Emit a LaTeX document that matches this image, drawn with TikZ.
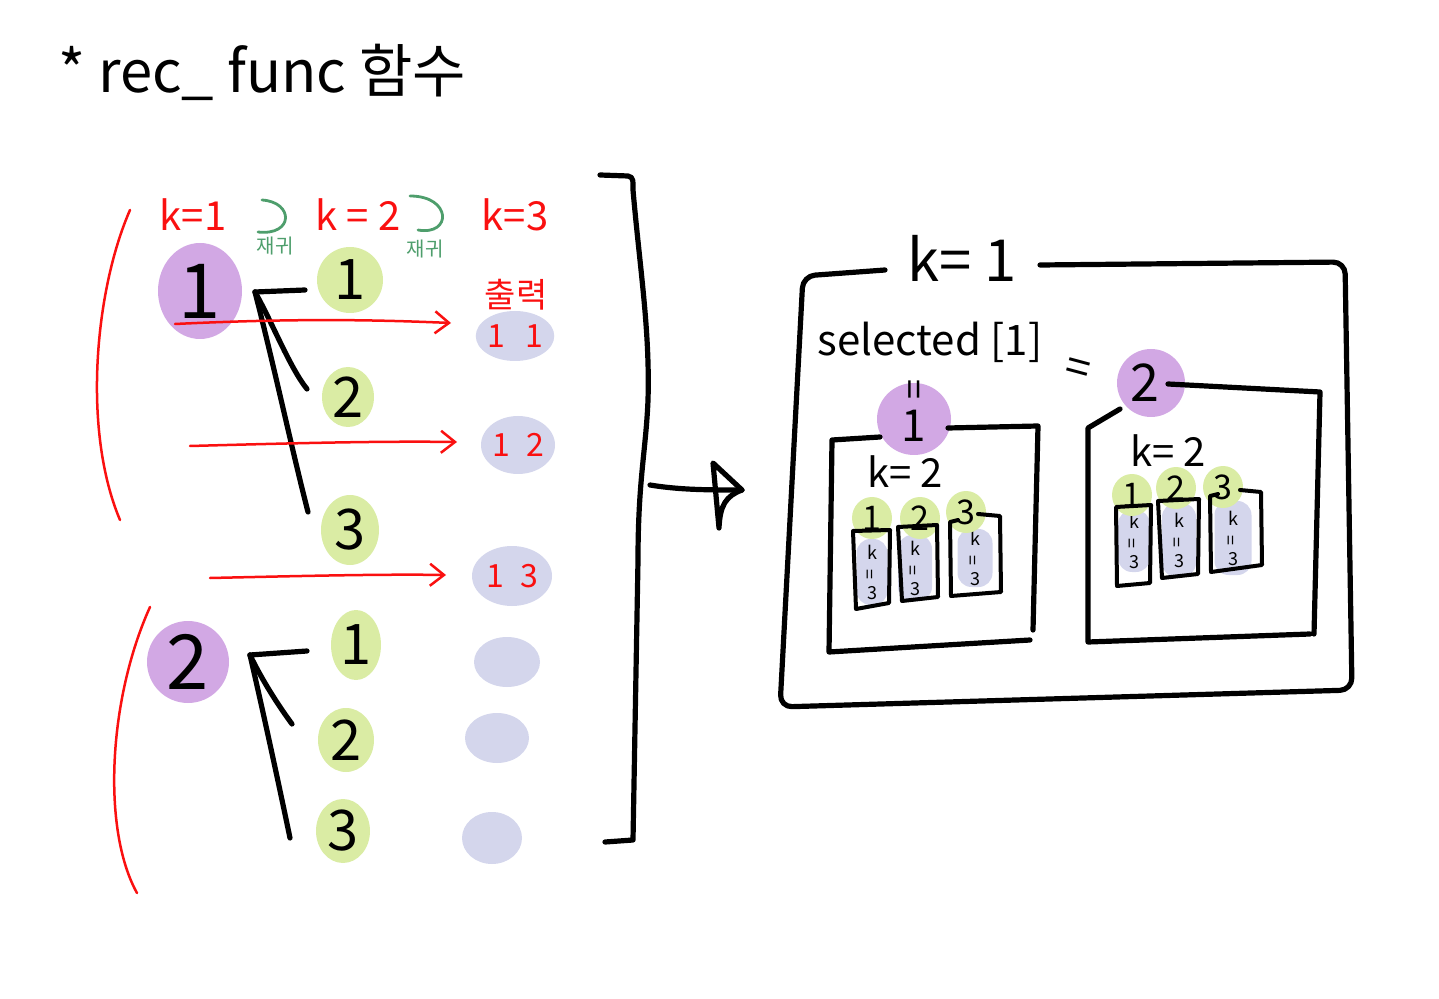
\documentclass[tikz,border=0pt]{standalone}
\usepackage{fontspec}
\setmainfont{Noto Sans CJK KR}
\usetikzlibrary{arrows.meta,shapes.geometric}
\definecolor{pblob}{RGB}{210,168,228}
\definecolor{gblob}{RGB}{218,236,164}
\definecolor{lblob}{RGB}{212,214,236}
\definecolor{redink}{RGB}{250,16,16}
\definecolor{greenink}{RGB}{78,158,108}
\begin{document}
\begin{tikzpicture}[x=0.5pt,y=-0.5pt,
  ink/.style={line width=2.6pt, line cap=round, line join=round},
  thinink/.style={line width=2pt, line cap=round, line join=round},
  rink/.style={draw=redink, line width=1.25pt, line cap=round},
  rarrow/.style={rink, -{Straight Barb[length=7pt,width=11pt,line width=1.25pt]}},
  garc/.style={draw=greenink, line width=1.4pt, line cap=round},
  pb/.style={ellipse, fill=pblob, inner sep=0pt, font=\fontsize{38}{38}\selectfont},
  gb/.style={ellipse, fill=gblob, inner sep=0pt, font=\fontsize{28}{28}\selectfont},
  sgb/.style={ellipse, fill=gblob, inner sep=0pt, minimum width=20pt, minimum height=21pt, font=\fontsize{17}{17}\selectfont},
  lb/.style={ellipse, fill=lblob, inner sep=0pt, text=redink, font=\fontsize{16}{16}\selectfont},
  slb/.style={rectangle, rounded corners=7pt, fill=lblob, inner sep=0pt, align=center, font=\fontsize{9}{10}\selectfont},
  rlabel/.style={text=redink, inner sep=0pt, font=\fontsize{20}{20}\selectfont},
  glabel/.style={text=greenink, inner sep=0pt, font=\fontsize{10}{10}\selectfont},
  blabel/.style={inner sep=0pt}
]
\useasboundingbox (0,0) rectangle (1439,999);

% ---------- title
\node[blabel, font=\fontsize{29}{29}\selectfont] (title) at (262,72) {* rec\_ func 함수};

% ---------- left: headers
\node[rlabel] (k1) at (193,215) {k=1};
\node[rlabel] (k2) at (358,215) {k = 2};
\node[rlabel] (k3) at (515,215) {k=3};
\draw[garc] (262,200) .. controls (294,202) and (294,236) .. (258,232);
\draw[garc] (410,196) .. controls (452,196) and (452,236) .. (418,230);
\node[glabel] (rec1) at (275,246) {재귀};
\node[glabel] (rec2) at (425,249) {재귀};
\node[rlabel, font=\fontsize{17}{17}\selectfont] (out) at (516,295) {출력};

% ---------- left: blobs (group 1)
\node[pb, minimum width=42pt, minimum height=48pt] (a1) at (200,291) {1};
\node[gb, minimum width=33pt, minimum height=33pt] (b1) at (350,280) {1};
\node[gb, minimum width=26pt, minimum height=30pt] (b2) at (348,397) {2};
\node[gb, minimum width=29pt, minimum height=35pt] (b3) at (350,530) {3};
\node[lb, minimum width=35pt, minimum height=25pt] (c1) at (515,336) {1\hspace{10pt}1};
\node[lb, minimum width=37pt, minimum height=29pt] (c2) at (518,445) {1\hspace{8pt}2};
\node[lb, minimum width=40pt, minimum height=30pt] (c3) at (512,576) {1\hspace{8pt}3};
\node[lb, minimum width=33pt, minimum height=25pt] (c4) at (507,662) {};
\node[lb, minimum width=32pt, minimum height=25pt] (c5) at (497,738) {};
\node[lb, minimum width=30pt, minimum height=26pt] (c6) at (492,838) {};

% ---------- left: blobs (group 2)
\node[pb, minimum width=41pt, minimum height=41pt] (a2) at (188,662) {2};
\node[gb, minimum width=25pt, minimum height=35pt] (d1) at (356,645) {1};
\node[gb, minimum width=28pt, minimum height=32pt] (d2) at (346,740) {2};
\node[gb, minimum width=27pt, minimum height=32pt] (d3) at (343,831) {3};

% ---------- left: connectors group 1
\coordinate (j1) at (255,292);
\coordinate (e1) at (305,290);
\coordinate (e2) at (307,389);
\coordinate (e3) at (308,512);
\draw[ink] (j1) -- (e1);
\draw[ink] (j1) .. controls (272,322) and (290,368) .. (e2);
\draw[ink] (j1) .. controls (275,370) and (292,450) .. (e3);

% ---------- left: connectors group 2
\coordinate (j2) at (250,655);
\coordinate (f1) at (307,651);
\coordinate (f2) at (292,724);
\coordinate (f3) at (290,838);
\draw[ink] (j2) -- (f1);
\draw[ink] (j2) .. controls (262,680) and (278,705) .. (f2);
\draw[ink] (j2) .. controls (265,720) and (280,790) .. (f3);

% ---------- red output arrows
\coordinate (r1s) at (175,324); \coordinate (r1e) at (451,323);
\coordinate (r2s) at (190,446); \coordinate (r2e) at (457,442);
\coordinate (r3s) at (210,578); \coordinate (r3e) at (446,575);
\draw[rarrow] (r1s) .. controls (300,318) and (380,320) .. (r1e);
\draw[rarrow] (r2s) .. controls (300,443) and (380,441) .. (r2e);
\draw[rarrow] (r3s) .. controls (300,576) and (380,574) .. (r3e);

% ---------- red brackets
\draw[rink] (130,210) .. controls (95,290) and (82,430) .. (120,520);
\draw[rink] (150,607) .. controls (108,700) and (102,830) .. (137,893);

% ---------- big black bracket and arrow
\coordinate (brtop) at (600,175);
\coordinate (brbot) at (605,842);
\coordinate (brmid) at (650,485);
\coordinate (tip) at (742,490);
\draw[ink] (brtop) -- (628,176) .. controls (634,177) and (633,182) .. (633,190)
  .. controls (640,270) and (650,330) .. (648,400)
  .. controls (646,450) and (638,480) .. (638,560)
  -- (633,840) -- (brbot);
\draw[ink] (brmid) .. controls (680,490) and (710,490) .. (tip);
\draw[ink] (713,463) -- (tip) .. controls (726,496) and (720,505) .. (719,528) -- cycle;

% ---------- right: outer box
\node[blabel, font=\fontsize{29}{29}\selectfont] (kk1) at (962,258) {k= 1};
\draw[ink, rounded corners=6pt] (885,270) -- (803,276) -- (780,707) -- (1352,690) -- (1345,262) -- (1040,265);
\node[blabel, font=\fontsize{21}{21}\selectfont] (sel) at (930,342) {selected [1]};
\node[blabel, font=\fontsize{22}{22}\selectfont, rotate=-15] (eq1) at (1077,372) {=};

% purple blobs on right
\node[pb, minimum width=37pt, minimum height=36pt] (p1) at (914,419) {};
\node[blabel, font=\fontsize{22}{22}\selectfont] (p1t) at (914,426) {1};
\node[pb, minimum width=34pt, minimum height=34pt] (p2) at (1151,383) {};
\node[blabel, font=\fontsize{26}{26}\selectfont] (p2t) at (1145,383) {2};
\node[blabel, font=\fontsize{18}{18}\selectfont, rotate=90] (eq2) at (918,390) {=};

% inner box 1
\draw[ink] (880,437) -- (832,440) -- (829,652) -- (1030,640);
\draw[ink] (948,428) -- (1038,426) -- (1033,630);
\node[blabel, font=\fontsize{20}{20}\selectfont] (k21) at (905,472) {k= 2};

% inner box 2
\draw[ink] (1120,409) -- (1088,428) -- (1088,642) -- (1310,634);
\draw[ink] (1168,384) -- (1320,392) -- (1314,634);
\node[blabel, font=\fontsize{20}{20}\selectfont] (k22) at (1168,451) {k= 2};

% box 1 children
\node[slb, minimum width=15.5pt, minimum height=33pt] (u1) at (872,572) {k\\\rotatebox{90}{=}\\3};
\node[slb, minimum width=17pt, minimum height=33pt] (u2) at (915,568) {k\\\rotatebox{90}{=}\\3};
\node[slb, minimum width=17.5pt, minimum height=29pt] (u3) at (975,558) {k\\\rotatebox{90}{=}\\3};
\node[sgb] (g1) at (872,518) {1};
\node[sgb] (g2) at (920,518) {2};
\node[sgb] (g3) at (966,512) {3};
\draw[thinink] (853,531) -- (890,530) -- (889,603) -- (856,609) -- cycle;
\draw[thinink] (898,527) -- (937,525) -- (938,597) -- (902,601) -- cycle;
\draw[thinink] (978,514) -- (1000,516) -- (1001,592) -- (951,596) -- (950,522) -- (958,520);

% box 2 children
\node[slb, minimum width=16pt, minimum height=31pt] (v1) at (1134,541) {k\\\rotatebox{90}{=}\\3};
\node[slb, minimum width=17pt, minimum height=37pt] (v2) at (1179,540) {k\\\rotatebox{90}{=}\\3};
\node[slb, minimum width=18.5pt, minimum height=37pt] (v3) at (1233,538) {k\\\rotatebox{90}{=}\\3};
\node[sgb] (h1) at (1132,495) {1};
\node[sgb] (h2) at (1176,488) {2};
\node[sgb] (h3) at (1223,487) {3};
\draw[thinink] (1116,507) -- (1151,505) -- (1150,583) -- (1117,586) -- cycle;
\draw[thinink] (1158,501) -- (1199,499) -- (1198,574) -- (1162,578) -- cycle;
\draw[thinink] (1240,490) -- (1261,492) -- (1262,565) -- (1211,572) -- (1210,496) -- (1218,494);
\end{tikzpicture}
\end{document}
